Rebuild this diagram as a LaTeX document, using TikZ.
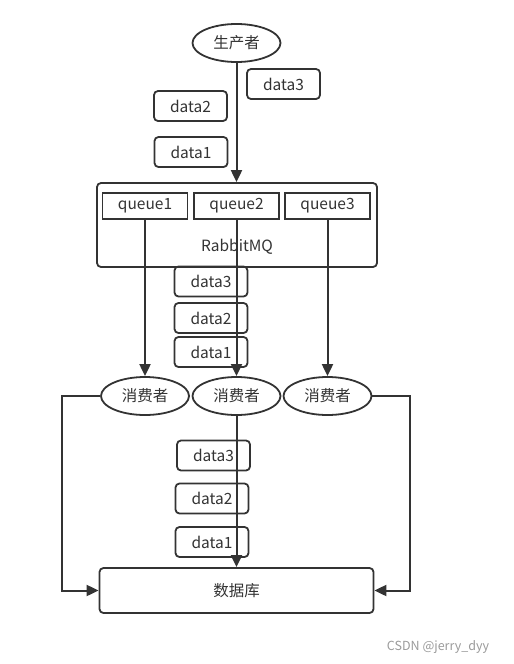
\documentclass[tikz,border=0pt]{standalone}
\usepackage{fontspec}
\setmainfont{Noto Sans CJK SC}
\usetikzlibrary{shapes.geometric,arrows.meta}
\definecolor{ink}{HTML}{333333}
\definecolor{wmgray}{HTML}{9A9A9A}
\begin{document}
\begin{tikzpicture}[x=1pt,y=-1pt,
    every node/.style={font=\fontsize{15.5}{18}\selectfont,text=ink},
    role/.style={ellipse,draw=ink,line width=1.8pt,minimum width=88pt,minimum height=38pt,inner sep=0pt},
    msg/.style={draw=ink,line width=1.8pt,rounded corners=4pt,minimum width=73pt,minimum height=30pt,inner sep=0pt},
    queue/.style={draw=ink,line width=1.8pt,minimum width=85pt,minimum height=26pt,inner sep=0pt},
    flow/.style={draw=ink,line width=2pt,-{Triangle[width=11pt,length=12pt]}}]
      \useasboundingbox (0,0) rectangle (514,664);
      \draw
        (237,225) node[msg,minimum width=280pt,minimum height=84pt] (mq){}
        (237,247) node (mqname){RabbitMQ}
        (236.5,590.5) node[msg,minimum width=274pt,minimum height=45pt] (db){数据库}
        (236.5,43) node[role] (prod){生产者}
        (145,206) node[queue] (q1){queue1}
        (236.5,206) node[queue] (q2){queue2}
        (327.5,206) node[queue] (q3){queue3}
        (145,396) node[role] (c1){消费者}
        (236.5,396) node[role] (c2){消费者}
        (327.5,396) node[role] (c3){消费者}
        (283.5,84) node[msg] (up3){data3}
        (190.5,106) node[msg] (up2){data2}
        (191,152) node[msg] (up1){data1}
        (211,281.5) node[msg] (mid3){data3}
        (211,318) node[msg] (mid2){data2}
        (211,352) node[msg] (mid1){data1}
        (213.5,455.5) node[msg] (low3){data3}
        (212,498.5) node[msg] (low2){data2}
        (212,542) node[msg] (low1){data1}
        (438,647) node[font=\fontsize{12.5}{15}\selectfont,text=wmgray] (wm){CSDN @jerry\_dyy};
      \coordinate (lturn) at (62,396);
      \coordinate (rturn) at (410,396);
      \begin{scope}[flow]
        \draw (prod) -- (prod |- mq.north);
        \draw (q1) -- (c1);
        \draw (q2) -- (c2);
        \draw (q3) -- (c3);
        \draw (c2) -- (db);
        \draw (c1.west) -- (lturn) |- (db.west);
        \draw (c3.east) -- (rturn) |- (db.east);
      \end{scope}
    \end{tikzpicture}
\end{document}
